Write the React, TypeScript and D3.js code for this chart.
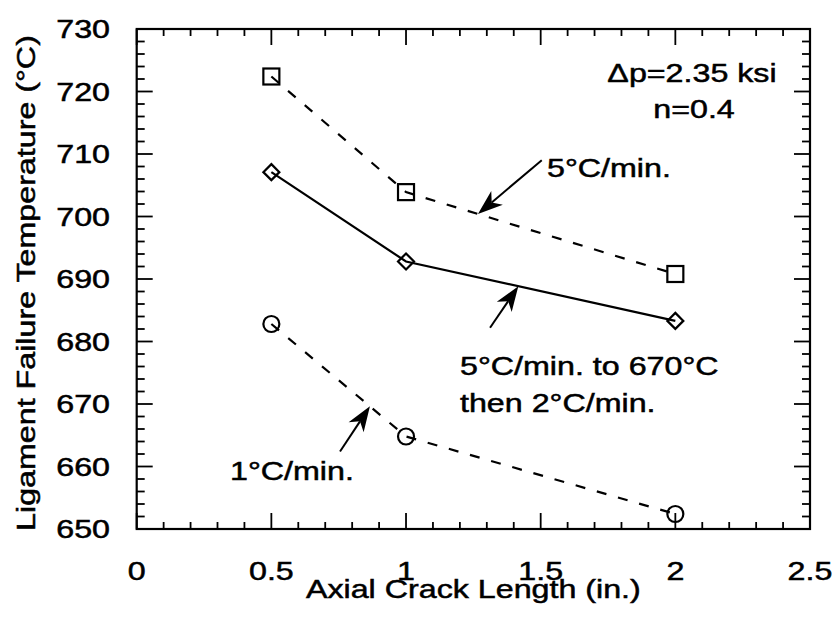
import React from "react";
import * as d3 from "d3";

const crackLength = [0.5, 1, 2];
const rate5 = [722.4, 703.9, 690.8];
const rateStep = [707.1, 692.8, 683.3];
const rate1 = [682.8, 664.8, 652.4];
const xTickLabels = ["0", "0.5", "1", "1.5", "2", "2.5"];
const yTickLabels = ["650", "660", "670", "680", "690", "700", "710", "720", "730"];

// annotation arrows: tail (data coords) and tip x on series
const arrows = [
  { tail: [1.504, 709.0], tipX: 1.267, series: "rate5" },
  { tail: [1.312, 682.2], tipX: 1.417, series: "rateStep" },
  { tail: [0.755, 662.4], tipX: 0.866, series: "rate1" },
];

const W = 840;
const H = 624;
const M = { left: 136.7, right: 810, top: 29, bottom: 529 };
const FONT = "'Liberation Sans', Arial, Helvetica, sans-serif";
const FS = 26;
const SX = 1.24;

function T({ x, y, anchor = "start", rotate = 0, children }: any) {
  return (
    <text
      transform={`translate(${x},${y}) rotate(${rotate}) scale(${SX},1)`}
      textAnchor={anchor}
      fontFamily={FONT}
      fontSize={FS}
      fill="#000"
      stroke="#000"
      strokeWidth={0.5}
    >
      {children}
    </text>
  );
}

export default function App() {
  const x = d3.scaleLinear().domain([0, 2.5]).range([M.left, M.right]);
  const y = d3.scaleLinear().domain([650, 730]).range([M.bottom, M.top]);

  const seriesMap: Record<string, number[]> = { rate5, rateStep, rate1 };
  const line = d3
    .line<[number, number]>()
    .x((d) => x(d[0]))
    .y((d) => y(d[1]));
  const pts = (vals: number[]) => crackLength.map((c, i) => [c, vals[i]] as [number, number]);

  const interp = (vals: number[], xv: number) => {
    for (let i = 0; i < crackLength.length - 1; i++) {
      if (xv >= crackLength[i] && xv <= crackLength[i + 1]) {
        const t = (xv - crackLength[i]) / (crackLength[i + 1] - crackLength[i]);
        return vals[i] + t * (vals[i + 1] - vals[i]);
      }
    }
    return vals[0];
  };

  const xMinor = d3.range(0, 2.5001, 0.1);
  const yMinor = d3.range(650, 730.001, 2);
  const isMajorX = (v: number) => Math.abs(v / 0.5 - Math.round(v / 0.5)) < 1e-6;
  const isMajorY = (v: number) => Math.abs(v / 10 - Math.round(v / 10)) < 1e-6;
  const xMajor = d3.range(0, 2.5001, 0.5);
  const yMajor = d3.range(650, 730.001, 10);

  const sq = 8;
  const dash = "10,12";

  return (
    <svg
      width={W}
      height={H}
      style={{ position: "absolute", left: 0, top: 0, background: "#fff" }}
    >
      <rect x={0} y={0} width={W} height={H} fill="#fff" />
      {/* ticks */}
      <g stroke="#000" strokeWidth={1.8}>
        {xMinor.map((v, i) => {
          const len = isMajorX(v) ? 16 : 7;
          const px = x(v);
          return (
            <g key={"xt" + i}>
              <line x1={px} x2={px} y1={M.bottom} y2={M.bottom - len} />
              <line x1={px} x2={px} y1={M.top} y2={M.top + len} />
            </g>
          );
        })}
        {yMinor.map((v, i) => {
          const len = isMajorY(v) ? 16 : 8;
          const py = y(v);
          return (
            <g key={"yt" + i}>
              <line x1={M.left} x2={M.left + len} y1={py} y2={py} />
              <line x1={M.right} x2={M.right - len} y1={py} y2={py} />
            </g>
          );
        })}
      </g>
      <rect
        x={M.left}
        y={M.top}
        width={M.right - M.left}
        height={M.bottom - M.top}
        fill="none"
        stroke="#000"
        strokeWidth={2.2}
      />
      {/* tick labels */}
      {xMajor.map((v, i) => (
        <T key={"xl" + i} x={x(v)} y={580} anchor="middle">
          {xTickLabels[i]}
        </T>
      ))}
      {yMajor.map((v, i) => (
        <T key={"yl" + i} x={110} y={y(v) + 9} anchor="end">
          {yTickLabels[i]}
        </T>
      ))}
      {/* axis titles */}
      <T x={(M.left + M.right) / 2} y={598} anchor="middle">
        Axial Crack Length (in.)
      </T>
      <T x={35} y={(M.top + M.bottom) / 2 + 4} anchor="middle" rotate={-90}>
        Ligament Failure Temperature (°C)
      </T>
      {/* series lines */}
      <path d={line(pts(rate5)) || ""} fill="none" stroke="#000" strokeWidth={2.2} strokeDasharray={dash} />
      <path d={line(pts(rateStep)) || ""} fill="none" stroke="#000" strokeWidth={2.2} />
      <path d={line(pts(rate1)) || ""} fill="none" stroke="#000" strokeWidth={2.2} strokeDasharray={dash} />
      {/* markers */}
      {pts(rate5).map((d, i) => (
        <rect key={"s" + i} x={x(d[0]) - sq} y={y(d[1]) - sq} width={2 * sq} height={2 * sq} fill="none" stroke="#000" strokeWidth={2.2} />
      ))}
      {pts(rateStep).map((d, i) => {
        const cx = x(d[0]);
        const cy = y(d[1]);
        return (
          <path key={"d" + i} d={`M${cx},${cy - 8}L${cx + 8},${cy}L${cx},${cy + 8}L${cx - 8},${cy}Z`} fill="none" stroke="#000" strokeWidth={2.2} />
        );
      })}
      {pts(rate1).map((d, i) => (
        <circle key={"c" + i} cx={x(d[0])} cy={y(d[1])} r={8} fill="none" stroke="#000" strokeWidth={2.2} />
      ))}
      {/* arrows */}
      {arrows.map((a, i) => {
        const tx = x(a.tail[0]);
        const ty = y(a.tail[1]);
        const hx = x(a.tipX);
        const hy = y(interp(seriesMap[a.series], a.tipX));
        const ang = (Math.atan2(hy - ty, hx - tx) * 180) / Math.PI;
        const len = Math.hypot(hx - tx, hy - ty);
        return (
          <g key={"a" + i} transform={`translate(${tx},${ty}) rotate(${ang})`}>
            <line x1={0} y1={0} x2={len - 18} y2={0} stroke="#000" strokeWidth={2} />
            <path d={`M${len},0L${len - 25},-9L${len - 18},0L${len - 25},9Z`} fill="#000" />
          </g>
        );
      })}
      {/* annotations */}
      <T x={692} y={82} anchor="middle">Δp=2.35 ksi</T>
      <T x={694} y={118} anchor="middle">n=0.4</T>
      <T x={547} y={177}>5°C/min.</T>
      <T x={460} y={375}>5°C/min. to 670°C</T>
      <T x={460} y={412}>then 2°C/min.</T>
      <T x={230} y={480}>1°C/min.</T>
    </svg>
  );
}
